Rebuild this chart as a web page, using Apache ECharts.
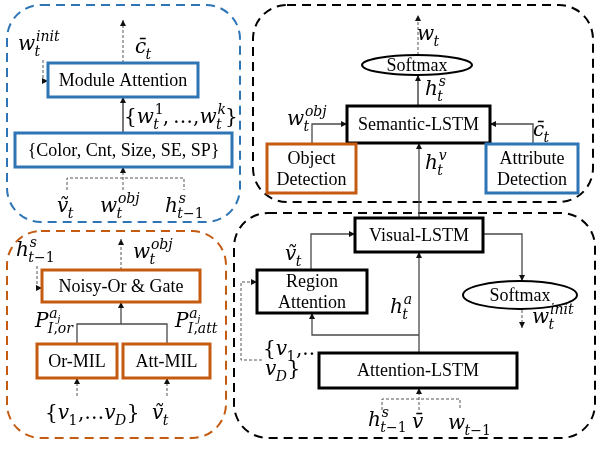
<!DOCTYPE html>
<html><head><meta charset="utf-8">
<script src="https://cdn.jsdelivr.net/npm/echarts@6/dist/echarts.min.js"></script>
<style>html,body{margin:0;padding:0;background:#fff}#c{width:597px;height:450px}</style>
</head><body><div id="c"></div>
<script>
// ---- diagram data (coordinates in the 597x450 data space) ----
// dashed module containers: x1, y1, x2, y2, colour key
const groups = [
  [7, 5, 240, 222, 'blue'],
  [253, 5, 593, 202, 'black'],
  [7, 231, 226, 438, 'orange'],
  [234, 213, 595, 438, 'black']
];
// boxes: x1, y1, x2, y2, label, colour key
const boxes = [
  [48, 63, 198, 97, 'Module Attention', 'blue'],
  [15, 133, 232, 167, '{Color, Cnt, Size, SE, SP}', 'blue'],
  [347, 106, 490, 143, 'Semantic-LSTM', 'black'],
  [267, 144, 356, 193, 'Object\nDetection', 'orange'],
  [486, 144, 578, 193, 'Attribute\nDetection', 'blue'],
  [355, 218, 483, 252, 'Visual-LSTM', 'black'],
  [257, 270, 367, 313, 'Region\nAttention', 'black'],
  [319, 353, 517, 388, 'Attention-LSTM', 'black'],
  [42, 270, 200, 302, 'Noisy-Or & Gate', 'orange'],
  [37, 344, 117, 378, 'Or-MIL', 'orange'],
  [123, 344, 210, 378, 'Att-MIL', 'orange']
];
// ellipses: cx, cy, rx, ry, label
const ellipses = [
  [417, 65, 55, 10, 'Softmax'],
  [520, 295, 57, 14, 'Softmax']
];
// solid connectors: polyline points, arrow at end (1/0), heavy (1/0)
const solidLinks = [
  [[[123, 133], [123, 97]], 1, 1],
  [[[418, 106], [418, 75]], 1, 1],
  [[[312, 144], [312, 124], [347, 124]], 1, 0],
  [[[533, 144], [533, 124], [490, 124]], 1, 0],
  [[[419, 218], [419, 143]], 1, 0],
  [[[311, 270], [311, 234], [355, 234]], 1, 0],
  [[[483, 234], [522, 234], [522, 281]], 1, 0],
  [[[419, 353], [419, 252]], 1, 0],
  [[[419, 335], [312, 335], [312, 313]], 1, 0],
  [[[77, 344], [77, 324], [167, 324], [167, 344]], 0, 0],
  [[[121, 324], [121, 302]], 1, 0]
];
// dashed connectors
const dashedLinks = [
  [[[123, 63], [123, 20]], 1],
  [[[43, 60], [43, 81], [48, 81]], 1],
  [[[67, 190], [67, 178], [184, 178], [184, 190]], 0],
  [[[123, 190], [123, 167]], 1],
  [[[418, 55], [418, 15]], 1],
  [[[522, 310], [522, 328]], 1],
  [[[262, 360], [241, 360], [241, 282], [257, 282]], 1],
  [[[382, 410], [382, 399], [460, 399], [460, 410]], 0],
  [[[419, 410], [419, 388]], 1],
  [[[121, 270], [121, 239]], 1],
  [[[37, 266], [37, 288], [42, 288]], 1],
  [[[77, 396], [77, 378]], 1],
  [[[167, 396], [167, 378]], 1]
];
// math labels: left x, x-height centre y, text ( _[..] subscript, ^[..] superscript )
const mathLabels = [
  [18, 47, 'w_[t]^[init]'],
  [135, 50, 'c\u0304_[t]'],
  [124, 120, '{w_[t]^[1],\u2009\u2026,w_[t]^[k]}'],
  [57, 209, '\u1E7D_[t]'],
  [100, 209, 'w_[t]^[obj]'],
  [165, 209, 'h_[t\u22121]^[s]'],
  [417, 37, 'w_[t]'],
  [425, 92, 'h_[t]^[s]'],
  [287, 122, 'w_[t]^[obj]'],
  [533, 133, 'c\u0304_[t]'],
  [425, 166, 'h_[t]^[v]'],
  [285, 257, '\u1E7D_[t]'],
  [390, 310, 'h_[t]^[a]'],
  [532, 320, 'w_[t]^[init]'],
  [263, 352, '{v_[1],..'],
  [265, 372, 'v_[D]}'],
  [368, 423, 'h_[t\u22121]^[s]'],
  [412, 425, 'v\u0304'],
  [448, 426, 'w_[t\u22121]'],
  [16, 253, 'h_[t\u22121]^[s]'],
  [133, 255, 'w_[t]^[obj]'],
  [35, 324, 'P_[I,or]^[a_[j]]'],
  [175, 324, 'P_[I,att]^[a_[j]]'],
  [45, 416, '{v_[1],\u2026v_[D]}'],
  [152, 416, '\u1E7D_[t]']
];

// ---- styling ----
const COLORS = { blue: '#2E75B6', orange: '#C55A11', black: '#000000' };
const SERIF = 'Liberation Serif';
const MATH = 'DejaVu Serif';
const BOX_FONT = 18;
const MATH_FONT = 20;

const mctx = document.createElement('canvas').getContext('2d');
function isItalic(ch) { return /[A-Za-z\u1E7D]/.test(ch); }
function measure(t, size, it) {
  mctx.font = (it ? 'italic ' : '') + size + 'px "' + MATH + '"';
  return mctx.measureText(t).width;
}
function readGroup(s, i) {
  let d = 0, j = i;
  for (; j < s.length; j++) {
    if (s[j] === '[') d++;
    else if (s[j] === ']') { d--; if (d === 0) break; }
  }
  return [s.slice(i + 1, j), j + 1];
}
function layoutMath(s, size, x, y, out) {
  let cx = x, i = 0;
  while (i < s.length) {
    let ch = s[i]; i++;
    while (i < s.length && /[\u0300-\u036f]/.test(s[i])) { ch += s[i]; i++; }
    const it = isItalic(ch[0]);
    out.push({ text: ch, x: cx, y: y, size: size, it: it });
    cx += measure(ch, size, it);
    let subW = 0, supW = 0;
    for (let k = 0; k < 2; k++) {
      if (s[i] === '_' && s[i + 1] === '[') {
        const r = readGroup(s, i + 1); i = r[1];
        subW = layoutMath(r[0], size * 0.7, cx - size * 0.03, y + size * 0.32, out);
      } else if (s[i] === '^' && s[i + 1] === '[') {
        const r = readGroup(s, i + 1); i = r[1];
        supW = layoutMath(r[0], size * 0.7, cx + size * 0.04, y - size * 0.42, out);
      }
    }
    cx += Math.max(subW, supW);
  }
  return cx - x;
}

function arrowHead(p, q, color) {
  const dx = q[0] - p[0], dy = q[1] - p[1];
  const L = Math.hypot(dx, dy) || 1;
  const ux = dx / L, uy = dy / L, len = 6, hw = 3;
  return {
    type: 'polygon',
    shape: { points: [[q[0], q[1]], [q[0] - ux * len - uy * hw, q[1] - uy * len + ux * hw], [q[0] - ux * len + uy * hw, q[1] - uy * len - ux * hw]] },
    style: { fill: color }
  };
}
function linkRenderer(list, dashed) {
  return function (params, api) {
    const l = list[params.dataIndex];
    const pts = l[0].map(p => api.coord(p));
    const heavy = !dashed && l[2];
    const children = [{
      type: 'polyline',
      shape: { points: pts },
      style: { stroke: dashed ? '#555' : (heavy ? '#777' : '#4a4a4a'), lineWidth: dashed ? 1 : (heavy ? 2 : 1.3),
        lineDash: dashed ? [3, 2] : null, fill: 'none' }
    }];
    if (l[1]) children.push(arrowHead(pts[pts.length - 2], pts[pts.length - 1], '#111'));
    return { type: 'group', children: children };
  };
}

const chart = echarts.init(document.getElementById('c'), null, { renderer: 'canvas' });
chart.setOption({
  animation: false,
  backgroundColor: '#fff',
  grid: { left: 0, right: 0, top: 0, bottom: 0 },
  xAxis: { type: 'value', min: 0, max: 597, show: false },
  yAxis: { type: 'value', min: 0, max: 450, inverse: true, show: false },
  series: [
    {
      type: 'custom', clip: false, silent: true,
      data: groups.map(g => [g[0], g[1], g[2], g[3]]),
      encode: { x: [0, 2], y: [1, 3] },
      renderItem: function (params, api) {
        const g = groups[params.dataIndex];
        const a = api.coord([g[0], g[1]]), b = api.coord([g[2], g[3]]);
        return {
          type: 'rect',
          shape: { x: a[0], y: a[1], width: b[0] - a[0], height: b[1] - a[1], r: 34 },
          style: { fill: 'none', stroke: COLORS[g[4]], lineWidth: 2, lineDash: [9, 6] }
        };
      }
    },
    {
      type: 'custom', clip: false, silent: true,
      data: solidLinks.map(l => [l[0][0][0], l[0][0][1]]),
      renderItem: linkRenderer(solidLinks, false)
    },
    {
      type: 'custom', clip: false, silent: true,
      data: dashedLinks.map(l => [l[0][0][0], l[0][0][1]]),
      renderItem: linkRenderer(dashedLinks, true)
    },
    {
      type: 'custom', clip: false, silent: true,
      data: boxes.map(b => [b[0], b[1], b[2], b[3]]),
      encode: { x: [0, 2], y: [1, 3] },
      renderItem: function (params, api) {
        const bx = boxes[params.dataIndex];
        const a = api.coord([bx[0], bx[1]]), b = api.coord([bx[2], bx[3]]);
        return {
          type: 'group',
          children: [
            { type: 'rect', shape: { x: a[0], y: a[1], width: b[0] - a[0], height: b[1] - a[1] },
              style: { fill: '#fff', stroke: COLORS[bx[5]], lineWidth: 3 } },
            { type: 'text', style: { text: bx[4], x: (a[0] + b[0]) / 2, y: (a[1] + b[1]) / 2 + 1,
              align: 'center', verticalAlign: 'middle', fontSize: BOX_FONT, fontFamily: SERIF,
              lineHeight: 21, fill: '#000' } }
          ]
        };
      }
    },
    {
      type: 'custom', clip: false, silent: true,
      data: ellipses.map(e => [e[0], e[1]]),
      renderItem: function (params, api) {
        const e = ellipses[params.dataIndex];
        const c = api.coord([e[0], e[1]]);
        const r = api.coord([e[0] + e[2], e[1] + e[3]]);
        return {
          type: 'group',
          children: [
            { type: 'ellipse', shape: { cx: c[0], cy: c[1], rx: r[0] - c[0], ry: r[1] - c[1] },
              style: { fill: '#fff', stroke: '#000', lineWidth: 2 } },
            { type: 'text', style: { text: e[4], x: c[0], y: c[1] + 1, align: 'center', verticalAlign: 'middle',
              fontSize: BOX_FONT, fontFamily: SERIF, fill: '#000' } }
          ]
        };
      }
    },
    {
      type: 'custom', clip: false, silent: true,
      data: mathLabels.map(m => [m[0], m[1]]),
      renderItem: function (params, api) {
        const m = mathLabels[params.dataIndex];
        const p = api.coord([m[0], m[1]]);
        const out = [];
        layoutMath(m[2], MATH_FONT, p[0], p[1], out);
        return {
          type: 'group',
          children: out.map(o => ({
            type: 'text',
            style: { text: o.text, x: o.x, y: o.y - o.size * 0.1, align: 'left', verticalAlign: 'middle',
              fontSize: o.size, fontFamily: MATH, fontStyle: o.it ? 'italic' : 'normal', fill: '#000' }
          }))
        };
      }
    }
  ]
});
</script>
</body></html>
